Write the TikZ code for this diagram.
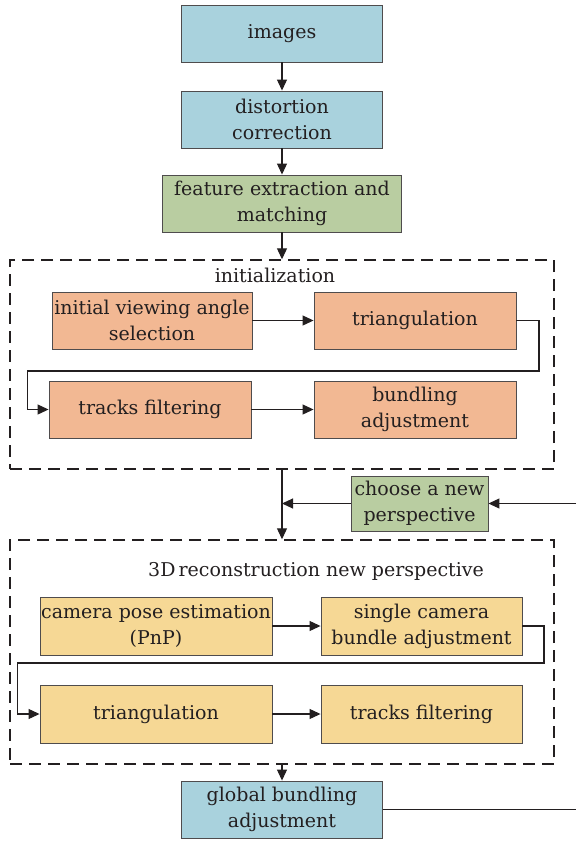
\documentclass[tikz,border=0pt]{standalone}
\usepackage{fontspec}
\setmainfont{DejaVu Serif}
\usepackage{tikz}
\usetikzlibrary{arrows.meta,positioning,calc}

\definecolor{boxblue}{RGB}{169,210,221}
\definecolor{boxgreen}{RGB}{185,205,161}
\definecolor{boxorange}{RGB}{242,184,147}
\definecolor{boxyellow}{RGB}{246,216,149}
\definecolor{inkgray}{RGB}{35,31,32}

\begin{document}
\begin{tikzpicture}[
    x=1pt, y=-1pt,
    every node/.style={font=\fontsize{19}{26}\selectfont, text=inkgray, align=center, inner sep=0pt},
    blk/.style={draw=inkgray!80, line width=0.9pt, rectangle, minimum height=57pt},
    inblue/.style={blk, fill=boxblue, minimum width=201pt},
    ingreen/.style={blk, fill=boxgreen},
    initbox/.style={blk, fill=boxorange, minimum width=202pt},
    recbox/.style={blk, fill=boxyellow, minimum height=58pt},
    group/.style={draw=inkgray, dashed, dash pattern=on 12pt off 7pt, line width=1.4pt, minimum width=544pt},
    flow/.style={-{Triangle[length=11pt, width=10pt]}, draw=inkgray, line width=1.1pt},
    plain/.style={draw=inkgray, line width=1.1pt},
  ]
    \useasboundingbox (0,0) rectangle (576,842);

    % Nodes
    \node[inblue] (img) at (282,33.5) {images};
    \node[inblue] (dist) at (282,119.5) {distortion\\correction};
    \node[ingreen, minimum width=239pt] (feat) at (282,203.5) {feature extraction and\\matching};

    % Initialization
    \node[group, minimum height=209pt] (init) at (282,364.5) {};
    \node (initlbl) at (275,275) {initialization};
    \node[initbox, minimum width=200pt] (sel) at (152,320.5) {initial viewing angle\\selection};
    \node[initbox] (tri1) at (415,320.5) {triangulation};
    \node[initbox] (track1) at (150,409.5) {tracks filtering};
    \node[initbox] (bund1) at (415,409.5) {bundling\\adjustment};

    \node[ingreen, minimum width=137pt, minimum height=55pt] (choose) at (419.5,503.5) {choose a new\\perspective};

    % 3D reconstruction
    \node[group, minimum height=224pt] (recon) at (282,652) {};
    \node (reconlbl) at (316,571) {3D\,reconstruction new perspective};
    \node[recbox, minimum width=232pt] (pose) at (156,626) {camera pose estimation\\(PnP)};
    \node[recbox, minimum width=201pt] (single) at (421.5,626) {single camera\\bundle adjustment};
    \node[recbox, minimum width=232pt] (tri2) at (156,714) {triangulation};
    \node[recbox, minimum width=201pt] (track2) at (421.5,714) {tracks filtering};

    \node[inblue] (gba) at (282,809.5) {global bundling\\adjustment};

    % Loop ends at the page edge
    \coordinate (loopin) at (576,503.5);
    \coordinate (loopout) at (576,809.5);

    % Flow
    \draw[flow] (img) -- (dist);
    \draw[flow] (dist) -- (feat);
    \draw[flow] (feat) -- (feat.south |- init.north);
    \draw[flow] (sel) -- (tri1);
    \draw[flow] (tri1.east) -| (539,371) -| ([xshift=-21pt]track1.west) -- (track1.west);
    \draw[flow] (track1) -- (bund1);
    \draw[flow] (init.south) -- (recon.north);
    \draw[flow] (choose.west) -- (choose.west -| init.south);
    \draw[flow] (loopin) -- (choose.east);
    \draw[flow] (pose) -- (single);
    \draw[flow] (single.east) -| (544,663) -| ([xshift=-22pt]tri2.west) -- (tri2.west);
    \draw[flow] (tri2) -- (track2);
    \draw[flow] (recon.south) -- (gba.north);
    \draw[plain] (gba.east) -- (loopout);
  \end{tikzpicture}
\end{document}
